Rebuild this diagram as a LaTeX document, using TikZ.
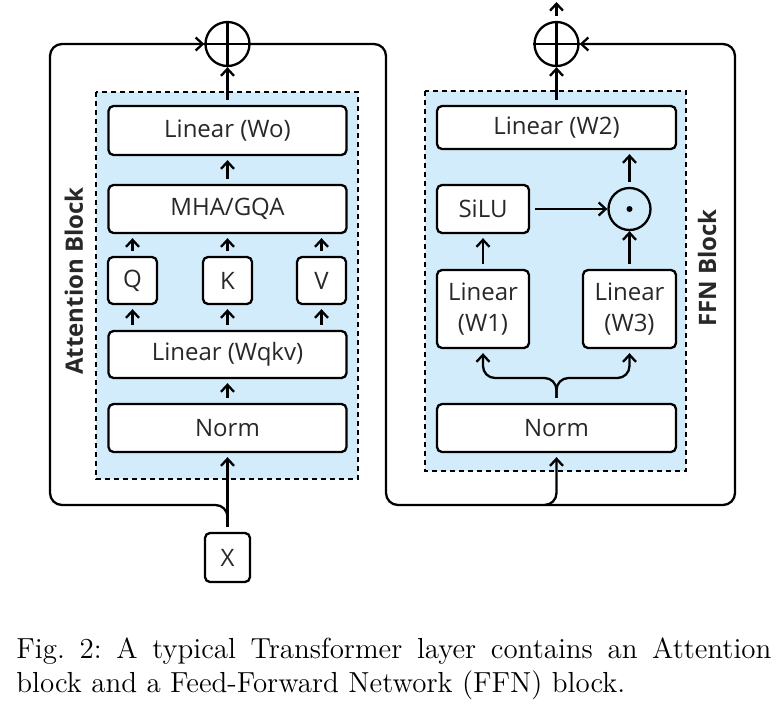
\documentclass[tikz,border=0pt]{standalone}
\usepackage{fontspec}
\setsansfont{Open Sans}
\usetikzlibrary{arrows.meta}
\definecolor{blockblue}{RGB}{210,236,252}
\definecolor{labelgray}{RGB}{40,40,40}

\begin{document}
\begin{tikzpicture}[x=0.5pt,y=-0.5pt,
    box/.style={draw, line width=1.15pt, rounded corners=2.5pt, fill=white, inner sep=0pt,
        text=labelgray, font=\sffamily\fontsize{12}{15.5}\selectfont, align=center},
    opcircle/.style={draw, circle, line width=1.15pt, minimum size=22pt, inner sep=0pt},
    tip/.style={-{Straight Barb[length=3.5pt,width=6.5pt]}},
    flow/.style={line width=1.15pt, tip, shorten <=2.5pt, shorten >=2pt},
    resid/.style={line width=1.15pt, rounded corners=6pt},
    blockarea/.style={fill=blockblue, draw, line width=1.1pt, dash pattern=on 2.5pt off 2pt},
    blocklabel/.style={rotate=90, font=\sffamily\bfseries\fontsize{12}{14}\selectfont, text=labelgray}]

    \useasboundingbox (0,0) rectangle (778,713);

    % Block areas
    \draw[blockarea] (96,92) rectangle (358,479);   % attention
    \draw[blockarea] (425,91) rectangle (686,471);  % ffn
    \node[blocklabel] (attlabel) at (74,281) {Attention Block};
    \node[blocklabel] (ffnlabel) at (707,268) {FFN Block};

    % Attention block
    \node[box, minimum width=119pt, minimum height=24.5pt] (wo) at (227.5,130.5) {Linear (Wo)};
    \node[box, minimum width=119pt, minimum height=24pt] (mha) at (227.5,209) {MHA/GQA};
    \node[box, minimum width=24.5pt, minimum height=23.5pt] (q) at (132.5,280.5) {Q};
    \node[box, minimum width=24.5pt, minimum height=23.5pt] (k) at (227.5,280.5) {K};
    \node[box, minimum width=24.5pt, minimum height=23.5pt] (v) at (321.5,280.5) {V};
    \node[box, minimum width=119pt, minimum height=23.5pt] (wqkv) at (227.5,354.5) {Linear (Wqkv)};
    \node[box, minimum width=119pt, minimum height=24pt] (norma) at (227.5,428) {Norm};
    \node[box, minimum width=22.5pt, minimum height=24.5pt] (x) at (227.5,557.5) {X};
    \node[opcircle] (plusa) at (227.5,44) {};
    \draw[line width=1.15pt] (plusa.north) -- (plusa.south) (plusa.west) -- (plusa.east);

    \draw[flow] (x.north) -- (norma.south);
    \draw[flow] (norma.north) -- (wqkv.south);
    \foreach \h in {q,k,v}{
        \draw[flow] (wqkv.north -| \h) -- (\h.south);
        \draw[flow] (\h.north) -- (\h.north |- mha.south);
    }
    \draw[flow] (mha.north) -- (wo.south);
    \draw[flow, shorten >=0pt] (wo.north) -- (plusa.south);

    % FFN block
    \node[box, minimum width=119.5pt, minimum height=21.5pt] (wtwo) at (556.5,127.5) {Linear (W2)};
    \node[box, minimum width=46pt, minimum height=24pt] (silu) at (483,209) {SiLU};
    \node[opcircle, minimum size=21pt] (odot) at (629.5,209) {};
    \fill (odot) circle (3);
    \node[box, minimum width=46pt, minimum height=39pt] (wone) at (483,309) {Linear\\(W1)};
    \node[box, minimum width=46.5pt, minimum height=39pt] (wthree) at (629.5,309) {Linear\\(W3)};
    \node[box, minimum width=119.5pt, minimum height=24pt] (normb) at (556.5,428) {Norm};
    \node[opcircle] (plusb) at (556.5,44) {};
    \draw[line width=1.15pt] (plusb.north) -- (plusb.south) (plusb.west) -- (plusb.east);

    \coordinate (fork) at (556.5,378);
    \draw[flow, rounded corners=6pt] (normb.north) -- (fork) -| (wone.south);
    \draw[flow, rounded corners=6pt] (normb.north) -- (fork) -| (wthree.south);
    \draw[flow] (wone.north) -- (silu.south);
    \draw[flow, shorten >=0pt] (silu.east) -- (odot.west);
    \draw[flow, shorten >=0pt] (wthree.north) -- (odot.south);
    \draw[flow] (odot.north) -- (wtwo.south -| odot);
    \draw[flow, shorten >=0pt] (wtwo.north) -- (plusb.south);
    \coordinate (out) at (556.5,2);
    \draw[flow, shorten >=0pt] (plusb.north) -- (out);

    % Residual paths
    \coordinate (lcorner) at (50,505);
    \coordinate (mcorner) at (386,505);
    \coordinate (rcorner) at (735,505);
    \coordinate (junction) at (545,505);
    \draw[resid, tip, shorten <=2.5pt] (x.north) |- (lcorner) |- (plusa.west);
    \draw[resid, tip, shorten >=2pt] (plusa.east) -| (mcorner) -| (normb.south);
    \draw[resid, tip] (junction) -- (rcorner) |- (plusb.east);

    % Caption
    \node[anchor=north west, text width=377.5pt, align=justify, inner sep=0pt,
        font=\fontsize{14.5}{17}\selectfont] (caption) at (16,637)
        {\frenchspacing Fig. 2: A typical Transformer layer contains an Attention\linebreak
         block and a Feed-Forward Network (FFN) block.};
\end{tikzpicture}
\end{document}
